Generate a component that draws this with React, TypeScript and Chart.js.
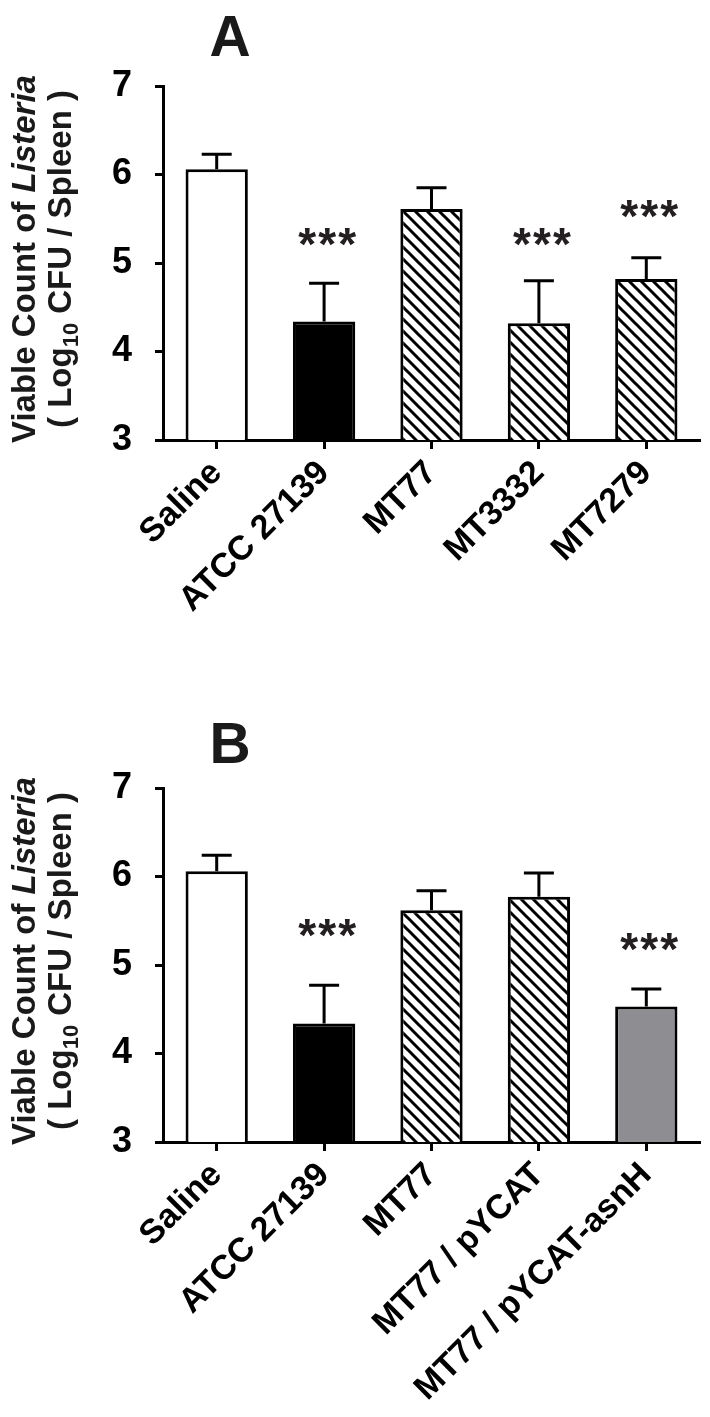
import React, { useEffect, useRef } from "react";
import { Chart, registerables } from "chart.js";

Chart.register(...registerables);

const FONT = '"Liberation Sans", Arial, Helvetica, sans-serif';

// ---------- Data ----------
const categoriesA = ["Saline", "ATCC 27139", "MT77", "MT3332", "MT7279"];
const meansA = [6.06, 4.34, 5.61, 4.32, 4.82];
const errorTopsA = [6.23, 4.77, 5.85, 4.8, 5.06];
const starLevelsA: (number | null)[] = [null, 5.29, null, 5.29, 5.61];
const fillsA = ["white", "black", "hatch", "hatch", "hatch"];

const categoriesB = ["Saline", "ATCC 27139", "MT77", "MT77 / pYCAT", "MT77 / pYCAT-asnH"];
const meansB = [6.06, 4.34, 5.62, 5.77, 4.53];
const errorTopsB = [6.24, 4.77, 5.84, 6.04, 4.73];
const starLevelsB: (number | null)[] = [null, 5.42, null, null, 5.26];
const fillsB = ["white", "black", "hatch", "hatch", "gray"];

const yTickValues = [3, 4, 5, 6, 7];
const yMin = 3;
const yMax = 7;
const starText = "***";

function makeHatch(): CanvasPattern | string {
  const s = 12;
  const c = document.createElement("canvas");
  c.width = s;
  c.height = s;
  const g = c.getContext("2d");
  if (!g) return "#fff";
  g.fillStyle = "#fff";
  g.fillRect(0, 0, s, s);
  g.strokeStyle = "#000";
  g.lineWidth = 3;
  g.beginPath();
  g.moveTo(-2, -2);
  g.lineTo(s + 2, s + 2);
  g.moveTo(s - 3, -3);
  g.lineTo(s + 3, 3);
  g.moveTo(-3, s - 3);
  g.lineTo(3, s + 3);
  g.stroke();
  const p = g.createPattern(c, "repeat");
  return p || "#fff";
}

type PanelProps = {
  letter: string;
  letterBaseline: number;
  categories: string[];
  means: number[];
  errorTops: number[];
  starLevels: (number | null)[];
  fills: string[];
  height: number;
  xAxisHeight: number;
};

function Panel(props: PanelProps) {
  const ref = useRef<HTMLCanvasElement>(null);
  useEffect(() => {
    const canvas = ref.current;
    if (!canvas) return;
    const hatch = makeHatch();
    const bg = props.fills.map((f) =>
      f === "hatch" ? hatch : f === "black" ? "#000000" : f === "gray" ? "#8e8e92" : "#ffffff"
    );

    const decor = {
      id: "decor",
      afterDatasetsDraw(chart: any) {
        const ctx: CanvasRenderingContext2D = chart.ctx;
        const y = chart.scales.y;
        const meta = chart.getDatasetMeta(0);
        ctx.save();
        ctx.strokeStyle = "#000";
        ctx.lineWidth = 3;
        meta.data.forEach((bar: any, i: number) => {
          const x = bar.x;
          const top = y.getPixelForValue(props.means[i]);
          const ey = y.getPixelForValue(props.errorTops[i]);
          ctx.beginPath();
          ctx.moveTo(x, top);
          ctx.lineTo(x, ey);
          ctx.moveTo(x - 15, ey);
          ctx.lineTo(x + 15, ey);
          ctx.stroke();
        });
        ctx.fillStyle = "#231f20";
        ctx.font = `bold 46px ${FONT}`;
        ctx.textAlign = "center";
        ctx.textBaseline = "alphabetic";
        const m = ctx.measureText("*");
        const asc = m.actualBoundingBoxAscent;
        const desc = m.actualBoundingBoxDescent;
        meta.data.forEach((bar: any, i: number) => {
          const lvl = props.starLevels[i];
          if (lvl == null) return;
          const cy = y.getPixelForValue(lvl);
          const base = cy + (asc - desc) / 2;
          const chars = starText.split("");
          chars.forEach((ch, k) => {
            ctx.fillText(ch, bar.x + 3 + (k - (chars.length - 1) / 2) * 20, base);
          });
        });
        ctx.restore();
      },
      afterDraw(chart: any) {
        const ctx: CanvasRenderingContext2D = chart.ctx;
        const area = chart.chartArea;
        ctx.save();
        ctx.fillStyle = "#1a1a1a";
        ctx.font = `bold 57px ${FONT}`;
        ctx.textAlign = "center";
        ctx.textBaseline = "alphabetic";
        ctx.fillText(props.letter, 230, props.letterBaseline);

        const cy = (area.top + area.bottom) / 2 - 4;
        const drawLine = (segs: { t: string; f: string; dy?: number }[], xb: number) => {
          ctx.save();
          ctx.translate(xb, cy);
          ctx.rotate(-Math.PI / 2);
          ctx.textAlign = "left";
          ctx.fillStyle = "#1a1a1a";
          let total = 0;
          segs.forEach((s) => {
            ctx.font = s.f;
            total += ctx.measureText(s.t).width;
          });
          let x = -total / 2;
          segs.forEach((s) => {
            ctx.font = s.f;
            ctx.fillText(s.t, x, s.dy || 0);
            x += ctx.measureText(s.t).width;
          });
          ctx.restore();
        };
        const nf = `bold 33px ${FONT}`;
        const itf = `italic bold 33px ${FONT}`;
        const sub = `bold 22px ${FONT}`;
        drawLine(
          [
            { t: "Viable Count of ", f: nf },
            { t: "Listeria", f: itf },
          ],
          35
        );
        drawLine(
          [
            { t: "( Log", f: nf },
            { t: "10", f: sub, dy: 7 },
            { t: " CFU / Spleen )", f: nf },
          ],
          71
        );
        ctx.restore();
      },
    };

    const chart = new Chart(canvas, {
      type: "bar",
      data: {
        labels: props.categories,
        datasets: [
          {
            data: props.means,
            backgroundColor: bg as any,
            borderColor: "#000",
            borderWidth: 3,
            borderSkipped: false,
            barPercentage: 0.58,
            categoryPercentage: 1,
          },
        ],
      },
      options: {
        responsive: false,
        animation: false,
        devicePixelRatio: 1,
        layout: { padding: { top: 86, right: 10, left: 0, bottom: 0 } },
        plugins: {
          legend: { display: false },
          tooltip: { enabled: false },
          title: { display: false },
        },
        scales: {
          x: {
            offset: true,
            grid: {
              offset: false,
              drawOnChartArea: false,
              drawTicks: true,
              tickLength: 9,
              tickWidth: 3,
              tickColor: "#000",
            },
            border: { display: true, width: 3, color: "#000" },
            ticks: {
              maxRotation: 45,
              minRotation: 45,
              autoSkip: false,
              padding: 4,
              color: "#000",
              font: { family: FONT, size: 34, weight: "bold" },
            },
            afterFit: (s: any) => {
              s.height = props.xAxisHeight;
            },
          },
          y: {
            min: yMin,
            max: yMax,
            grid: {
              drawOnChartArea: false,
              drawTicks: true,
              tickLength: 8,
              tickWidth: 3,
              tickColor: "#000",
            },
            border: { display: true, width: 3, color: "#000" },
            ticks: {
              padding: 23,
              color: "#000",
              font: { family: FONT, size: 36, weight: "bold" },
            },
            afterBuildTicks: (s: any) => {
              s.ticks = yTickValues.map((v) => ({ value: v }));
            },
            afterFit: (s: any) => {
              s.width = 163;
            },
          },
        },
      },
      plugins: [decor],
    });
    return () => chart.destroy();
  }, []);
  return <canvas ref={ref} width={710} height={props.height} style={{ display: "block" }} />;
}

export default function App() {
  return (
    <div style={{ position: "absolute", left: 0, top: 0, width: 710, height: 1417, background: "#fff" }}>
      <div style={{ position: "absolute", left: 0, top: 0 }}>
        <Panel
          letter="A"
          letterBaseline={56}
          categories={categoriesA}
          means={meansA}
          errorTops={errorTopsA}
          starLevels={starLevelsA}
          fills={fillsA}
          height={702}
          xAxisHeight={262}
        />
      </div>
      <div style={{ position: "absolute", left: 0, top: 702 }}>
        <Panel
          letter="B"
          letterBaseline={61}
          categories={categoriesB}
          means={meansB}
          errorTops={errorTopsB}
          starLevels={starLevelsB}
          fills={fillsB}
          height={715}
          xAxisHeight={275}
        />
      </div>
    </div>
  );
}
